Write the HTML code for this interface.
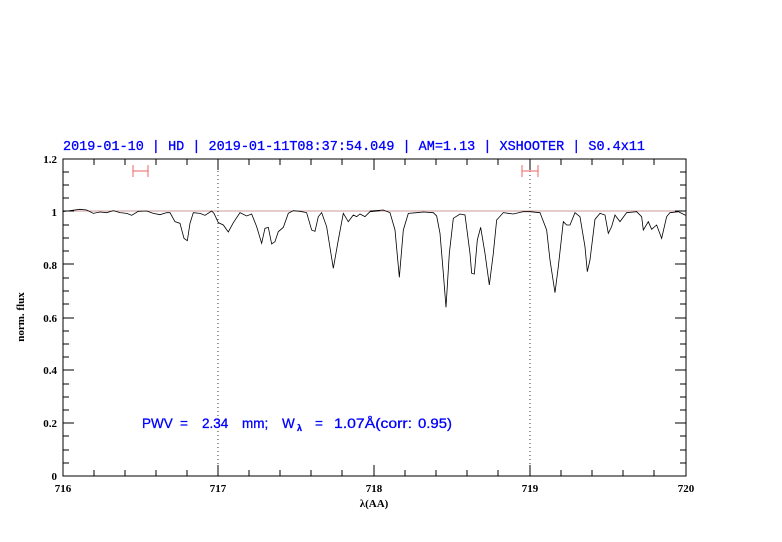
<!DOCTYPE html>
<html><head><style>body{margin:0;background:#fff}svg{display:block}</style></head><body>
<svg width="782" height="542" xmlns="http://www.w3.org/2000/svg" font-family="Liberation Sans, sans-serif">
<rect width="782" height="542" fill="#fff"/>
<text x="63" y="150" font-family="Liberation Mono, monospace" font-size="13.5" fill="#00f" stroke="#00f" stroke-width="0.3" textLength="582" lengthAdjust="spacingAndGlyphs">2019-01-10 | HD | 2019-01-11T08:37:54.049 | AM=1.13 | XSHOOTER | S0.4x11</text>
<line x1="63" y1="211" x2="686" y2="211" stroke="#c99" stroke-width="1"/>
<g stroke="#000" stroke-width="1" fill="none">
<rect x="63" y="159" width="623" height="317"/>
<line x1="218" y1="159" x2="218" y2="476" stroke-dasharray="1,3" stroke-width="0.8"/>
<line x1="530" y1="159" x2="530" y2="476" stroke-dasharray="1,3" stroke-width="0.8"/>
<path d="M94,476v-6M125,476v-6M156,476v-6M187,476v-6M218,476v-11M249,476v-6M280,476v-6M311,476v-6M342,476v-6M374,476v-11M405,476v-6M436,476v-6M467,476v-6M498,476v-6M530,476v-11M561,476v-6M592,476v-6M623,476v-6M654,476v-6
M94,159v6M125,159v6M156,159v6M187,159v6M218,159v11M249,159v6M280,159v6M311,159v6M342,159v6M374,159v11M405,159v6M436,159v6M467,159v6M498,159v6M530,159v11M561,159v6M592,159v6M623,159v6M654,159v6"/>
<path d="M63,463h6M63,450h6M63,436h6M63,423h11M63,410h6M63,397h6M63,384h6M63,370h11M63,357h6M63,344h6M63,331h6M63,318h11M63,304h6M63,291h6M63,278h6M63,264h11M63,251h6M63,238h6M63,225h6M63,211h11M63,198h6M63,185h6M63,172h6
M686,463h-6M686,450h-6M686,436h-6M686,423h-11M686,410h-6M686,397h-6M686,384h-6M686,370h-11M686,357h-6M686,344h-6M686,331h-6M686,318h-11M686,304h-6M686,291h-6M686,278h-6M686,264h-11M686,251h-6M686,238h-6M686,225h-6M686,211h-11M686,198h-6M686,185h-6M686,172h-6"/>
</g>
<g stroke="#e66" stroke-width="1" fill="none">
<path d="M133,171h15M133,165v12M148,165v12M522,171h16M522,165v12M538,165v12"/>
</g>
<g fill="none" stroke="#000" stroke-width="0.8">
<polyline vector-effect="non-scaling-stroke" transform="translate(60,200) scale(0.3333)" points="9,35 30,32 60,28 80,30 100,40 120,36 140,38 160,32 180,38 200,40 215,46 235,34 260,33 280,40 300,44 320,38 330,38 345,65 360,70 372,115 382,122 390,70 400,38 420,40 435,46 455,33 462,40 475,68 490,75 505,96 520,68 540,38 560,48 575,42 590,80 605,130 615,85 625,82 635,132 645,125 655,95 670,82 685,40 700,32 720,34 740,38 755,90 765,94 775,50 785,38 800,80 820,205 835,120 850,40 865,65 880,45 890,50 900,42 915,50 930,35 960,32"/>
<polyline vector-effect="non-scaling-stroke" transform="translate(370,200) scale(0.3333)" points="0,33 40,30 60,38 75,90 88,232 100,90 115,40 140,38 160,36 190,38 200,48 210,100 220,220 228,322 238,160 250,55 270,42 285,45 300,160 305,220 313,222 322,120 332,82 345,160 358,255 370,160 380,60 400,38 430,42 460,35 480,35 510,38 530,90 540,180 555,278 565,200 580,65 590,75 600,75 615,38 630,50 645,140 652,215 660,180 675,58 690,40 705,45 715,100 725,80 735,45 750,65 770,38 800,35 815,50 820,90 835,65 845,88 860,75 875,115 890,50 900,38 925,35 945,45 948,46"/>
</g>
<g font-size="11" text-anchor="end" fill="#000" font-weight="bold" font-family="Liberation Serif, serif">
<text x="57" y="480">0</text><text x="57" y="427">0.2</text><text x="57" y="374">0.4</text><text x="57" y="322">0.6</text><text x="57" y="269">0.8</text><text x="57" y="216">1</text><text x="57" y="163">1.2</text>
</g>
<g font-size="11" text-anchor="middle" fill="#000" font-weight="bold" font-family="Liberation Serif, serif">
<text x="63" y="492">716</text><text x="218" y="492">717</text><text x="374" y="492">718</text><text x="530" y="492">719</text><text x="686" y="492">720</text>
<text x="374" y="507">λ(AA)</text>
<text transform="translate(24,317) rotate(-90)">norm. flux</text>
</g>
<g font-family="Liberation Sans, sans-serif" font-size="13.5" fill="#00f" stroke="#00f" stroke-width="0.3">
<text x="142" y="428">PWV</text>
<text x="180" y="428">=</text>
<text x="202" y="428">2.34</text>
<text x="242" y="428">mm;</text>
<text x="282" y="428">W</text>
<text x="297" y="431" font-size="9" font-weight="bold">λ</text>
<text x="315" y="428">=</text>
<text x="334" y="428" textLength="78" lengthAdjust="spacingAndGlyphs">1.07Å(corr:</text>
<text x="418" y="428" textLength="34" lengthAdjust="spacingAndGlyphs">0.95)</text>
</g>
</svg>
</body></html>
